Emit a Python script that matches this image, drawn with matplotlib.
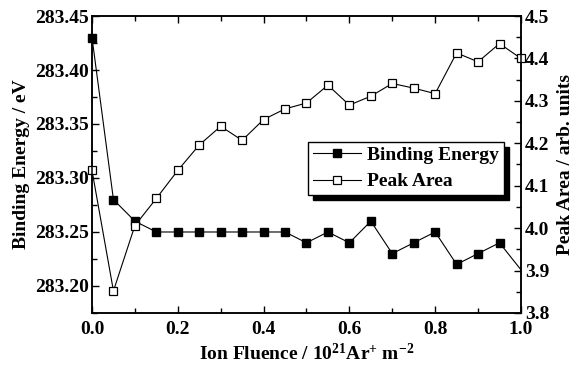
import matplotlib
matplotlib.use("Agg")
import matplotlib.pyplot as plt
from matplotlib.lines import Line2D
from matplotlib.ticker import MultipleLocator, FormatStrFormatter
import numpy as np

plt.rcParams['font.family'] = ['Liberation Serif', 'DejaVu Serif']
plt.rcParams['font.weight'] = 'bold'
plt.rcParams['mathtext.fontset'] = 'custom'
plt.rcParams['mathtext.rm'] = 'Liberation Serif:bold'
plt.rcParams['mathtext.it'] = 'Liberation Serif:bold'
plt.rcParams['mathtext.bf'] = 'Liberation Serif:bold'

# ---- data ----
fluence_be = [0.0, 0.05, 0.10, 0.15, 0.20, 0.25, 0.30, 0.35, 0.40, 0.45, 0.50,
              0.55, 0.60, 0.65, 0.70, 0.75, 0.80, 0.85, 0.90, 0.95, 1.05]
binding_energy = [283.43, 283.28, 283.26, 283.25, 283.25, 283.25, 283.25, 283.25,
                  283.25, 283.25, 283.24, 283.25, 283.24, 283.26, 283.23, 283.24,
                  283.25, 283.22, 283.23, 283.24, 283.19]
fluence_pa = [0.0, 0.05, 0.10, 0.15, 0.20, 0.25, 0.30, 0.35, 0.40, 0.45, 0.50,
              0.55, 0.60, 0.65, 0.70, 0.75, 0.80, 0.85, 0.90, 0.95, 1.00]
peak_area = [4.136, 3.852, 4.006, 4.070, 4.136, 4.196, 4.240, 4.207, 4.256, 4.281,
             4.295, 4.337, 4.290, 4.311, 4.341, 4.330, 4.317, 4.413, 4.392, 4.435,
             4.400]
xlabel = "Ion Fluence / 10$^{21}$Ar$^{+}$ m$^{-2}$"
ylabel_left = "Binding Energy / eV"
ylabel_right = "Peak Area / arb. units"
legend_labels = ["Binding Energy", "Peak Area"]

FS = 14
fig = plt.figure(figsize=(5.75, 3.68), dpi=100)
ax = fig.add_axes([0.160, 0.1495, 0.746, 0.807])
ax2 = ax.twinx()

xlim = (0.0, 1.0)
# Binding energy line (clipped) + markers (unclipped within range)
ax.plot(fluence_be, binding_energy, color='black', lw=0.8, clip_on=True)
fb = np.array(fluence_be)
be = np.array(binding_energy)
m = fb <= xlim[1] + 1e-9
ax.plot(fb[m], be[m], ls='none', marker='s', ms=5.2, mfc='black', mec='black',
        clip_on=False, zorder=3)

ax2.plot(fluence_pa, peak_area, color='black', lw=0.8, marker='s', ms=5.2,
         mfc='white', mec='black', mew=0.9, clip_on=False)

ax.set_xlim(*xlim)
ax.set_ylim(283.175, 283.45)
ax2.set_ylim(3.8, 4.5)

ax.xaxis.set_major_locator(MultipleLocator(0.2))
ax.xaxis.set_minor_locator(MultipleLocator(0.1))
ax.xaxis.set_major_formatter(FormatStrFormatter('%.1f'))
ax.yaxis.set_major_locator(MultipleLocator(0.05))
ax.yaxis.set_minor_locator(MultipleLocator(0.025))
ax.yaxis.set_major_formatter(FormatStrFormatter('%.2f'))
ax2.yaxis.set_major_locator(MultipleLocator(0.1))
ax2.yaxis.set_minor_locator(MultipleLocator(0.05))
ax2.yaxis.set_major_formatter(FormatStrFormatter('%.1f'))

ax.tick_params(axis='x', which='both', direction='in', top=True, labelsize=FS, pad=6)
ax.tick_params(axis='y', which='both', direction='in', labelsize=FS, pad=2)
ax.tick_params(which='major', length=5, width=1)
ax.tick_params(which='minor', length=3.5, width=1)
ax2.tick_params(axis='y', which='both', direction='in', labelsize=FS, pad=3)
ax2.tick_params(which='major', length=5, width=1)
ax2.tick_params(which='minor', length=3.5, width=1)

for a in (ax, ax2):
    for s in a.spines.values():
        s.set_linewidth(1.1)

ax.set_xlabel(xlabel, fontsize=FS, fontweight='bold', labelpad=3)
ax.set_ylabel(ylabel_left, fontsize=FS, fontweight='bold', labelpad=4)
ax2.set_ylabel(ylabel_right, fontsize=FS, fontweight='bold', labelpad=5)

handles = [
    Line2D([], [], color='black', lw=0.8, marker='s', ms=5.2, mfc='black', mec='black'),
    Line2D([], [], color='black', lw=0.8, marker='s', ms=5.2, mfc='white', mec='black', mew=0.9),
]
leg = ax2.legend(handles, legend_labels, loc='upper left',
                 bbox_to_anchor=(0.503, 0.577), borderaxespad=0,
                 fontsize=FS, frameon=True, fancybox=False,
                 handlelength=2.5, handletextpad=0.3, borderpad=0.25,
                 labelspacing=0.45,
                 shadow={'color': 'black', 'alpha': 1, 'ox': 3.6, 'oy': -3.6})
leg.get_frame().set_edgecolor('black')
leg.get_frame().set_linewidth(1.0)
leg.get_frame().set_alpha(1)

fig.savefig("out.png", dpi=100)
